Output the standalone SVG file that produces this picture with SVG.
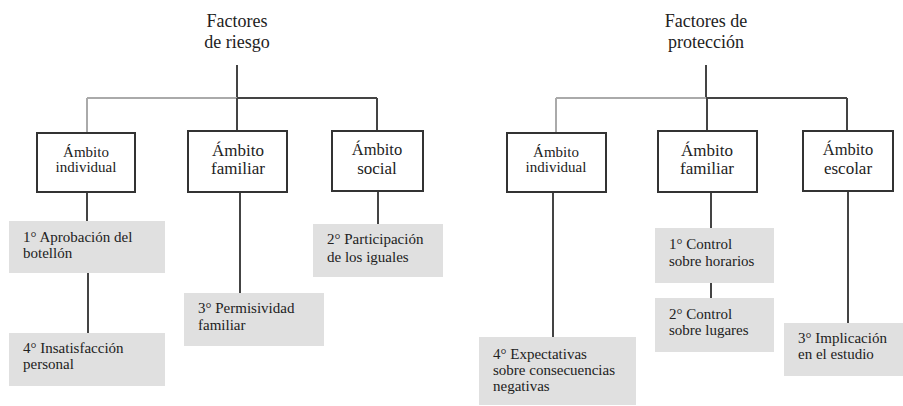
<svg xmlns="http://www.w3.org/2000/svg" width="903" height="406" viewBox="0 0 903 406" font-family="Liberation Serif, serif" style="font-family:'Liberation Serif',serif">
<style>
.t{font-size:18px;text-anchor:middle;fill:#222}
.a{text-anchor:middle;fill:#222}
.wb{fill:#fff;stroke:#333;stroke-width:2}
.gb{fill:#e0e0e0;stroke:none}
.g{font-size:15px;fill:#222}
.ln{stroke:#444;stroke-width:2;fill:none}
.lt{stroke:#aaa;stroke-width:2;fill:none}
</style>
<rect width="903" height="406" fill="#fff"/>
<g id="connectors">
<line class="ln" x1="237" y1="65" x2="237" y2="98"/>
<line class="lt" x1="87" y1="98" x2="237" y2="98"/>
<line class="ln" x1="237" y1="98" x2="377" y2="98"/>
<line class="lt" x1="87" y1="98" x2="87" y2="133"/>
<line class="ln" x1="237" y1="98" x2="237" y2="131"/>
<line class="ln" x1="377" y1="98" x2="377" y2="131"/>
<line class="ln" x1="87" y1="192" x2="87" y2="221"/>
<line class="ln" x1="88" y1="273" x2="88" y2="333"/>
<line class="ln" x1="240" y1="192" x2="240" y2="293"/>
<line class="ln" x1="378" y1="191" x2="378" y2="224"/>
<line class="ln" x1="706" y1="65" x2="706" y2="98"/>
<line class="lt" x1="556" y1="98" x2="706" y2="98"/>
<line class="ln" x1="706" y1="98" x2="847" y2="98"/>
<line class="lt" x1="556" y1="98" x2="556" y2="133"/>
<line class="ln" x1="707" y1="98" x2="707" y2="131"/>
<line class="ln" x1="847" y1="98" x2="847" y2="131"/>
<line class="ln" x1="553" y1="192" x2="553" y2="337"/>
<line class="ln" x1="711" y1="192" x2="711" y2="228"/>
<line class="ln" x1="711" y1="283" x2="711" y2="298"/>
<line class="ln" x1="848" y1="191" x2="848" y2="323"/>
</g>
<g id="t1"><text class="t" x="237" y="27" font-family="Liberation Serif, serif">Factores</text><text class="t" x="237" y="48" font-family="Liberation Serif, serif">de riesgo</text></g>
<g id="t2"><text class="t" x="706" y="27" font-family="Liberation Serif, serif">Factores de</text><text class="t" x="706" y="48" font-family="Liberation Serif, serif">protección</text></g>
<g id="l1" font-family="Liberation Serif, serif"><rect class="wb" x="37" y="133" width="98" height="59"/><text class="a" font-size="15" x="86" y="157">Ámbito</text><text class="a" font-size="15" x="86" y="172">individual</text></g>
<g id="l2" font-family="Liberation Serif, serif"><rect class="wb" x="188" y="131" width="99" height="61"/><text class="a" font-size="17" x="238" y="156">Ámbito</text><text class="a" font-size="17" x="238" y="174">familiar</text></g>
<g id="l3" font-family="Liberation Serif, serif"><rect class="wb" x="332" y="131" width="91" height="60"/><text class="a" font-size="16.5" x="377" y="155">Ámbito</text><text class="a" font-size="17" x="377" y="174">social</text></g>
<g id="r1" font-family="Liberation Serif, serif"><rect class="wb" x="507" y="133" width="99" height="59"/><text class="a" font-size="15" x="556" y="157">Ámbito</text><text class="a" font-size="15" x="556" y="172">individual</text></g>
<g id="r2" font-family="Liberation Serif, serif"><rect class="wb" x="658" y="131" width="99" height="61"/><text class="a" font-size="17" x="707" y="156">Ámbito</text><text class="a" font-size="17" x="707" y="174">familiar</text></g>
<g id="r3" font-family="Liberation Serif, serif"><rect class="wb" x="803" y="131" width="90" height="60"/><text class="a" font-size="16.5" x="848" y="155">Ámbito</text><text class="a" font-size="17" x="848" y="174">escolar</text></g>
<g id="g1" font-family="Liberation Serif, serif"><rect class="gb" x="9" y="221" width="156" height="52"/><text class="g" x="23" y="242">1° Aprobación del</text><text class="g" x="23" y="258">botellón</text></g>
<g id="g4" font-family="Liberation Serif, serif"><rect class="gb" x="9" y="333" width="156" height="53"/><text class="g" x="23" y="353">4° Insatisfacción</text><text class="g" x="23" y="369">personal</text></g>
<g id="g3" font-family="Liberation Serif, serif"><rect class="gb" x="184" y="293" width="140" height="53"/><text class="g" x="198" y="313">3° Permisividad</text><text class="g" x="198" y="330">familiar</text></g>
<g id="g2" font-family="Liberation Serif, serif"><rect class="gb" x="313" y="224" width="130" height="53"/><text class="g" x="327" y="244">2° Participación</text><text class="g" x="327" y="262">de los iguales</text></g>
<g id="p4" font-family="Liberation Serif, serif"><rect class="gb" x="479" y="337" width="157" height="68"/><text class="g" x="493" y="359">4° Expectativas</text><text class="g" x="493" y="375">sobre consecuencias</text><text class="g" x="493" y="391">negativas</text></g>
<g id="p1" font-family="Liberation Serif, serif"><rect class="gb" x="655" y="228" width="119" height="55"/><text class="g" x="669" y="249">1° Control</text><text class="g" x="669" y="266">sobre horarios</text></g>
<g id="p2" font-family="Liberation Serif, serif"><rect class="gb" x="655" y="298" width="119" height="54"/><text class="g" x="669" y="319">2° Control</text><text class="g" x="669" y="335">sobre lugares</text></g>
<g id="p3" font-family="Liberation Serif, serif"><rect class="gb" x="784" y="323" width="119" height="53"/><text class="g" x="798" y="343">3° Implicación</text><text class="g" x="798" y="359">en el estudio</text></g>
</svg>
